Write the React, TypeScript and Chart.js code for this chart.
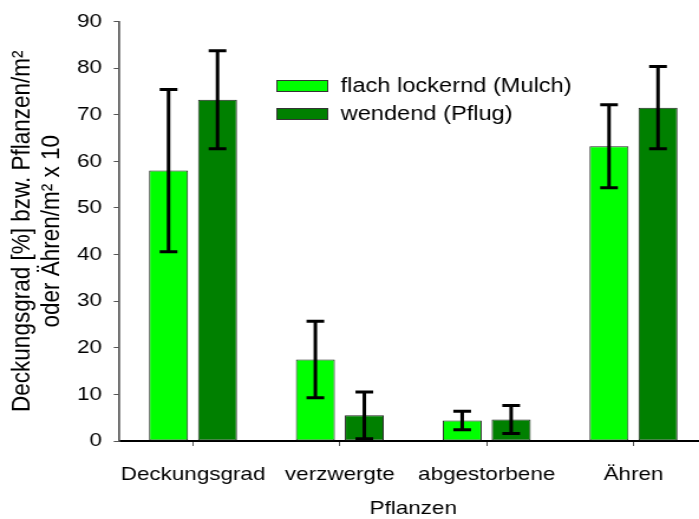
import React, { useEffect, useRef } from "react";
import { Chart, registerables } from "chart.js";

Chart.register(...registerables);

// Categories and measured means with symmetric error half-widths
const categories = ["Deckungsgrad", "verzwergte", "abgestorbene", "Ähren"];
const mulchValues = [58, 17.5, 4.4, 63.2];
const mulchErrors = [17.4, 8.2, 2.0, 8.9];
const pflugValues = [73.2, 5.5, 4.6, 71.5];
const pflugErrors = [10.5, 5.0, 3.0, 8.8];
const seriesLabels = ["flach lockernd (Mulch)", "wendend (Pflug)"];
const seriesColors = ["#00ff00", "#008000"];
const yTitleLines = ["Deckungsgrad [%] bzw. Pflanzen/m²", "oder Ähren/m² x 10"];
const xTitle = "Pflanzen";
const yMin = 0;
const yMax = 90;
const yStep = 10;

const FONT = "'Liberation Sans', Arial, Helvetica, sans-serif";
// the drawing is made on a narrower canvas and widened horizontally
const STRETCH = 1.18;
const CANVAS_W = 603;
const CANVAS_H = 519;

const errorSets = [mulchErrors, pflugErrors];

const errorBarPlugin = {
  id: "errorBars",
  afterDatasetsDraw(chart: any) {
    const { ctx } = chart;
    const yScale = chart.scales.y;
    chart.data.datasets.forEach((ds: any, di: number) => {
      const meta = chart.getDatasetMeta(di);
      const errs = errorSets[di];
      meta.data.forEach((bar: any, i: number) => {
        const v = ds.data[i] as number;
        const e = errs[i];
        const yTop = yScale.getPixelForValue(v + e);
        const yBot = yScale.getPixelForValue(v - e);
        const half = 7.5;
        ctx.save();
        ctx.strokeStyle = "#000";
        ctx.lineWidth = 3;
        ctx.lineCap = "butt";
        ctx.beginPath();
        ctx.moveTo(bar.x, yTop);
        ctx.lineTo(bar.x, yBot);
        ctx.moveTo(bar.x - half, yTop);
        ctx.lineTo(bar.x + half, yTop);
        ctx.moveTo(bar.x - half, yBot);
        ctx.lineTo(bar.x + half, yBot);
        ctx.stroke();
        ctx.restore();
      });
    });
  },
};

const legendPlugin = {
  id: "boxLegend",
  afterDraw(chart: any) {
    const { ctx } = chart;
    const boxX = 234;
    const boxW = 44;
    const boxH = 12;
    const rowY = [86, 114];
    const textX = 288.5;
    ctx.save();
    chart.data.datasets.forEach((ds: any, i: number) => {
      const cy = rowY[i];
      ctx.fillStyle = ds.backgroundColor;
      ctx.fillRect(boxX, cy - boxH / 2, boxW, boxH);
      ctx.strokeStyle = "#333";
      ctx.lineWidth = 1;
      ctx.strokeRect(boxX + 0.5, cy - boxH / 2 + 0.5, boxW - 1, boxH - 1);
      ctx.fillStyle = "#000";
      ctx.font = `20px ${FONT}`;
      ctx.textBaseline = "middle";
      ctx.textAlign = "left";
      ctx.fillText(ds.label, textX, cy);
    });
    ctx.restore();
  },
};

export default function App() {
  const canvasRef = useRef<HTMLCanvasElement | null>(null);

  useEffect(() => {
    const canvas = canvasRef.current;
    if (!canvas) return;
    const chart = new Chart(canvas, {
      type: "bar",
      data: {
        labels: categories,
        datasets: [
          {
            label: seriesLabels[0],
            data: mulchValues,
            backgroundColor: seriesColors[0],
            borderColor: "#222",
            borderWidth: 1,
            borderSkipped: false,
            categoryPercentage: 0.667,
            barPercentage: 0.796,
          },
          {
            label: seriesLabels[1],
            data: pflugValues,
            backgroundColor: seriesColors[1],
            borderColor: "#222",
            borderWidth: 1,
            borderSkipped: false,
            categoryPercentage: 0.667,
            barPercentage: 0.796,
          },
        ],
      },
      options: {
        responsive: false,
        animation: false,
        devicePixelRatio: 1,
        layout: { padding: { left: 0, right: 4.3, top: 20, bottom: 0 } },
        plugins: {
          legend: { display: false },
          tooltip: { enabled: false },
        },
        scales: {
          x: {
            type: "category",
            offset: true,
            grid: {
              offset: false,
              drawOnChartArea: false,
              drawTicks: true,
              tickLength: 5,
              color: "#555",
              lineWidth: 1,
            },
            border: { display: true, color: "#000", width: 2 },
            ticks: {
              color: "#000",
              padding: 17,
              maxRotation: 0,
              autoSkip: false,
              font: { family: FONT, size: 19 },
            },
            title: {
              display: true,
              text: xTitle,
              color: "#000",
              padding: { top: 0, bottom: 0 },
              font: { family: FONT, size: 19, lineHeight: 1.1 },
            },
            afterFit(scale: any) {
              scale.height = 78;
            },
          },
          y: {
            min: yMin,
            max: yMax,
            grid: {
              drawOnChartArea: false,
              drawTicks: true,
              tickLength: 5,
              color: "#555",
              lineWidth: 1,
            },
            border: { display: true, color: "#555", width: 1.7 },
            ticks: {
              stepSize: yStep,
              color: "#000",
              padding: 10,
              font: { family: FONT, size: 19 },
            },
            title: {
              display: true,
              text: yTitleLines,
              color: "#000",
              padding: { top: 6.7, bottom: 0 },
              font: { family: FONT, size: 22.5, lineHeight: 1.1 },
            },
            afterFit(scale: any) {
              scale.width = 101.3;
            },
          },
        },
      },
      plugins: [errorBarPlugin, legendPlugin],
    } as any);
    return () => chart.destroy();
  }, []);

  return (
    <div
      style={{
        position: "fixed",
        left: 0,
        top: 0,
        width: 699,
        height: 519,
        overflow: "hidden",
        background: "#fff",
      }}
    >
      <canvas
        ref={canvasRef}
        width={CANVAS_W}
        height={CANVAS_H}
        style={{
          display: "block",
          width: `${CANVAS_W * STRETCH}px`,
          height: `${CANVAS_H}px`,
        }}
      />
    </div>
  );
}
